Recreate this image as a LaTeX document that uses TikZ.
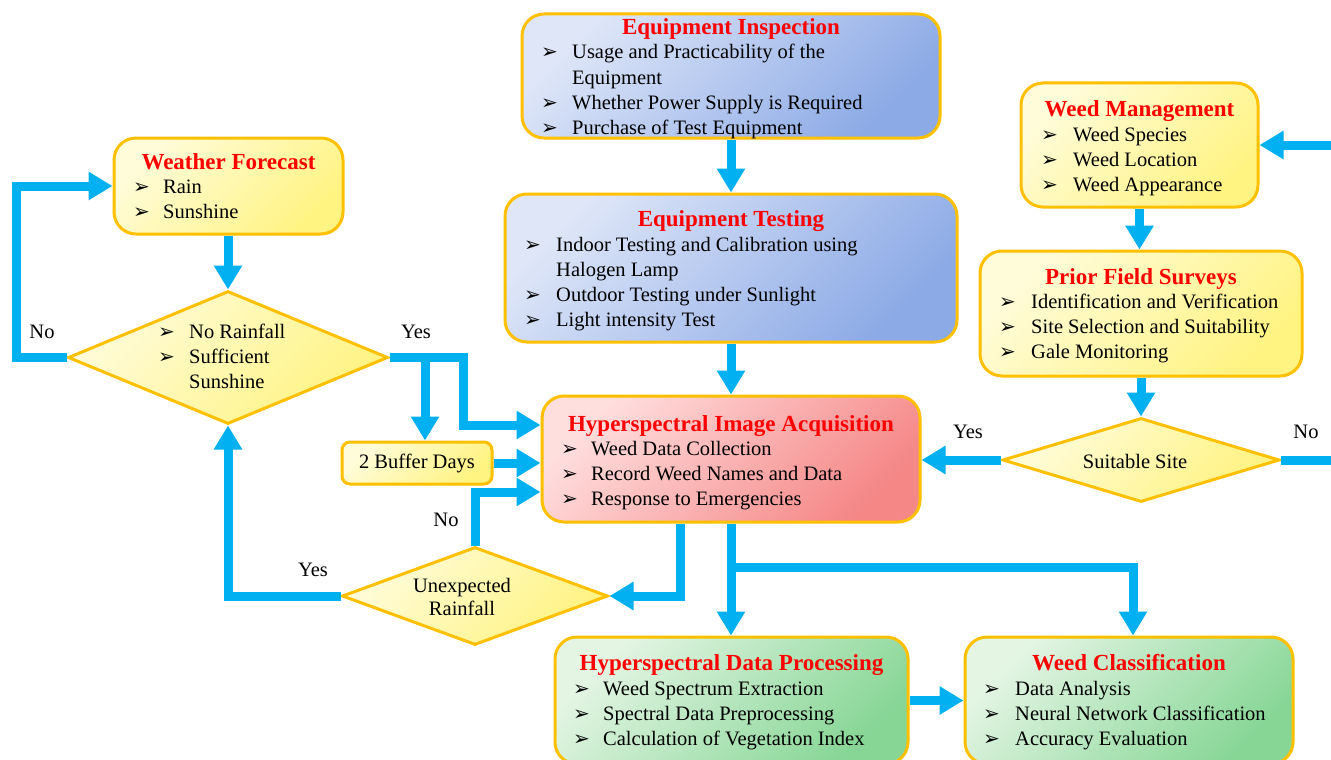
\documentclass[tikz,border=0pt]{standalone}
\usepackage{fontspec}
\setmainfont{Liberation Serif}
\newfontfamily\dvfont{DejaVu Sans}
\usetikzlibrary{arrows.meta,shapes.geometric,calc}
\definecolor{arrblue}{RGB}{0,176,240}
\definecolor{gold}{RGB}{255,192,0}
\definecolor{ylA}{RGB}{255,252,218}
\definecolor{ylB}{RGB}{255,243,130}
\definecolor{blA}{RGB}{222,230,248}
\definecolor{blB}{RGB}{140,170,230}
\definecolor{rdA}{RGB}{255,222,222}
\definecolor{rdB}{RGB}{245,135,135}
\definecolor{grA}{RGB}{228,245,228}
\definecolor{grB}{RGB}{135,214,150}
\definecolor{ttred}{RGB}{255,0,0}
\newcommand{\bl}{{\dvfont\fontsize{20}{20}\selectfont ➢}}
\begin{document}
\begin{tikzpicture}[x=1pt,y=-1pt,
  boxbase/.style={draw=gold, line width=3pt, rounded corners=22pt, inner sep=0pt},
  ybox/.style={boxbase, top color=ylA, bottom color=ylB, shading angle=45},
  bbox/.style={boxbase, top color=blA, bottom color=blB, shading angle=45},
  rbox/.style={boxbase, top color=rdA, bottom color=rdB, shading angle=45},
  gbox/.style={boxbase, top color=grA, bottom color=grB, shading angle=45},
  dia/.style={diamond, draw=gold, line width=3pt, inner sep=0pt, top color=ylA, bottom color=ylB, shading angle=45},
  ttl/.style={anchor=base, inner sep=0pt, text=ttred, font=\bfseries\fontsize{23}{27}\selectfont},
  itm/.style={anchor=base west, inner sep=0pt, font=\fontsize{20.5}{25.3}\selectfont},
  lbl/.style={inner sep=0pt, font=\fontsize{20.5}{24}\selectfont},
  ln/.style={draw=arrblue, line width=9pt},
  arr/.style={ln, -{Triangle[length=24pt,width=27pt]}}
]
\clip (0,0) rectangle (1331,760);
\fill[white] (0,0) rectangle (1331,760);

% ---------- boxes ----------
\node[bbox, minimum width=418pt, minimum height=124pt] (EI) at (731,76) {};
\node[bbox, minimum width=452pt, minimum height=148pt] (ET) at (731,268) {};
\node[ybox, minimum width=229pt, minimum height=96pt] (WF) at (228.5,186) {};
\node[ybox, rounded corners=8pt, minimum width=150pt, minimum height=42pt] (BUF) at (417,463) {};
\node[rbox, minimum width=378pt, minimum height=126pt] (HIA) at (731,459) {};
\node[ybox, minimum width=237pt, minimum height=124pt] (WM) at (1139.5,145) {};
\node[ybox, minimum width=322pt, minimum height=125pt] (PFS) at (1141,313.5) {};
\node[gbox, minimum width=353pt, minimum height=127pt] (HDP) at (731.5,700.5) {};
\node[gbox, minimum width=328pt, minimum height=127pt] (WC) at (1129,700.5) {};

\node[dia, minimum width=320pt, minimum height=133pt] (D1) at (228,357.5) {};
\node[dia, minimum width=266pt, minimum height=98pt] (UR) at (475,596) {};
\node[dia, minimum width=277pt, minimum height=84pt] (SS) at (1141,460) {};

% ---------- texts ----------
\node[ttl] (EIt) at (731,35) {Equipment Inspection};
\node[itm] (EIi) at (541,59) {\begin{tabular}[t]{@{}p{31pt}@{}l@{}}
\bl & Usage and Practicability of the\\
    & Equipment\\
\bl & Whether Power Supply is Required\\
\bl & Purchase of Test Equipment\end{tabular}};

\node[ttl] (ETt) at (731,226) {Equipment Testing};
\node[itm] (ETi) at (524,251) {\begin{tabular}[t]{@{}p{32pt}@{}l@{}}
\bl & Indoor Testing and Calibration using\\
    & Halogen Lamp\\
\bl & Outdoor Testing under Sunlight\\
\bl & Light intensity Test\end{tabular}};

\node[ttl] (WFt) at (228.5,169) {Weather Forecast};
\node[itm] (WFi) at (133,193) {\begin{tabular}[t]{@{}p{30pt}@{}l@{}}
\bl & Rain\\
\bl & Sunshine\end{tabular}};

\node[itm] (D1i) at (158,338) {\begin{tabular}[t]{@{}p{31pt}@{}l@{}}
\bl & No Rainfall\\
\bl & Sufficient\\
    & Sunshine\end{tabular}};

\node[lbl] (BUFt) at (417,463) {2 Buffer Days};

\node[ttl] (HIAt) at (731,431) {Hyperspectral Image Acquisition};
\node[itm] (HIAi) at (561,455) {\begin{tabular}[t]{@{}p{30pt}@{}l@{}}
\bl & Weed Data Collection\\
\bl & Record Weed Names and Data\\
\bl & Response to Emergencies\end{tabular}};

\node[lbl, align=center] (URt) at (462,597) {Unexpected\\[-1pt]Rainfall};

\node[ttl] (WMt) at (1139.5,116) {Weed Management};
\node[itm] (WMi) at (1041,141) {\begin{tabular}[t]{@{}p{32pt}@{}l@{}}
\bl & Weed Species\\
\bl & Weed Location\\
\bl & Weed Appearance\end{tabular}};

\node[ttl] (PFSt) at (1141,284) {Prior Field Surveys};
\node[itm] (PFSi) at (999,308) {\begin{tabular}[t]{@{}p{32pt}@{}l@{}}
\bl & Identification and Verification\\
\bl & Site Selection and Suitability\\
\bl & Gale Monitoring\end{tabular}};

\node[lbl] (SSt) at (1135,461) {Suitable Site};

\node[ttl] (HDPt) at (731.5,670) {Hyperspectral Data Processing};
\node[itm] (HDPi) at (573,695) {\begin{tabular}[t]{@{}p{30pt}@{}l@{}}
\bl & Weed Spectrum Extraction\\
\bl & Spectral Data Preprocessing\\
\bl & Calculation of Vegetation Index\end{tabular}};

\node[ttl] (WCt) at (1129,670) {Weed Classification};
\node[itm] (WCi) at (983,695) {\begin{tabular}[t]{@{}p{32pt}@{}l@{}}
\bl & Data Analysis\\
\bl & Neural Network Classification\\
\bl & Accuracy Evaluation\end{tabular}};

% ---------- labels ----------
\node[lbl] (l1) at (42,332) {No};
\node[lbl] (l2) at (416,332) {Yes};
\node[lbl] (l3) at (446,520) {No};
\node[lbl] (l4) at (313,570) {Yes};
\node[lbl] (l5) at (968,432) {Yes};
\node[lbl] (l6) at (1306,432) {No};

% ---------- connectors ----------
\coordinate (wmin) at (1331,145);
\coordinate (ssout) at (1331,460);
\coordinate (split) at (731,567);
\coordinate (yesc) at (463,357.5);
\coordinate (bufc) at (425,357.5);

\draw[arr] (EI.south) -- (ET.north);
\draw[arr] (ET.south) -- (HIA.north);
\draw[arr] (WF.south -| D1.north) -- (D1.north);
\draw[arr] (D1.west) -- (16,357.5) |- (WF.west);
\draw[arr] (D1.east) -- (yesc) |- ([yshift=34pt]HIA.west);
\draw[arr] (bufc) -- (bufc |- BUF.north);
\draw[arr] (BUF.east) -- (BUF.east -| HIA.west);
\draw[arr] (UR.north) |- ([yshift=-33pt]HIA.west);
\draw[arr] ([xshift=-51pt]HIA.south) |- (UR.east);
\draw[arr] (UR.west) -| (D1.south);
\draw[arr] (HIA.south) -- (HIA.south |- HDP.north);
\draw[arr] (split) -| ([xshift=4pt]WC.north);
\draw[arr] (HDP.east) -- (WC.west);
\draw[arr] (wmin) -- (WM.east);
\draw[arr] (WM.south) -- (WM.south |- PFS.north);
\draw[arr] (PFS.south) -- (SS.north);
\draw[arr] (SS.west) -- (SS.west -| HIA.east);
\draw[ln] (SS.east) -- (ssout);
\end{tikzpicture}
\end{document}
